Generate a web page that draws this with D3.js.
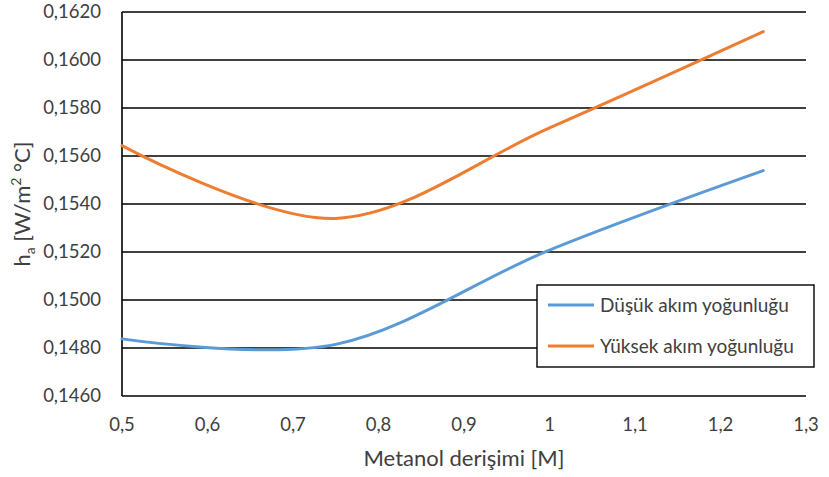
<!DOCTYPE html>
<html>
<head>
<meta charset="utf-8">
<script src="https://cdn.jsdelivr.net/npm/d3@7"></script>
<style>
  body { margin: 0; background: #fff; }
  text { font-family: Lato, "Open Sans", sans-serif; fill: #404040; }
</style>
</head>
<body>
<div id="root"></div>
<script>
const width = 829;
const height = 477;
const margin = { top: 12, right: 23, bottom: 81, left: 122 };

// data
const concentrations = [0.5, 0.75, 1.0, 1.25];
const lowCurrent = [0.14838, 0.14815, 0.15208, 0.15539];
const highCurrent = [0.15643, 0.15340, 0.15717, 0.16118];
const seriesNames = ["Düşük akım yoğunluğu", "Yüksek akım yoğunluğu"];
const seriesColors = ["#5B9BD5", "#ED7D31"];
const xTicks = [0.5, 0.6, 0.7, 0.8, 0.9, 1.0, 1.1, 1.2, 1.3];
const yTicks = [0.146, 0.148, 0.150, 0.152, 0.154, 0.156, 0.158, 0.160, 0.162];

const series = [lowCurrent, highCurrent].map((vals, i) => ({
  name: seriesNames[i],
  color: seriesColors[i],
  points: concentrations.map((c, j) => ({ x: c, y: vals[j] }))
}));

const svg = d3.select("#root")
  .append("svg")
    .attr("width", width)
    .attr("height", height);

const x = d3.scaleLinear()
  .domain([0.5, 1.3])
  .range([margin.left, width - margin.right]);

const y = d3.scaleLinear()
  .domain([0.146, 0.162])
  .range([height - margin.bottom, margin.top]);

// gridlines
svg.append("g")
  .selectAll("line")
  .data(yTicks)
  .enter()
  .append("line")
    .attr("x1", x(0.5))
    .attr("x2", x(1.3))
    .attr("y1", d => y(d))
    .attr("y2", d => y(d))
    .attr("stroke", "#000")
    .attr("stroke-width", 1.6);

// left axis line
svg.append("line")
  .attr("x1", x(0.5)).attr("x2", x(0.5))
  .attr("y1", y(0.146)).attr("y2", y(0.162))
  .attr("stroke", "#000")
  .attr("stroke-width", 1.6);

// y tick labels
svg.append("g")
  .selectAll("text")
  .data(yTicks)
  .enter()
  .append("text")
    .attr("x", x(0.5) - 21)
    .attr("y", d => y(d))
    .attr("dy", "0.35em")
    .attr("text-anchor", "end")
    .style("font-size", "18.5px")
    .text(d => d3.format(".4f")(d).replace(".", ","));

// x tick labels
svg.append("g")
  .selectAll("text")
  .data(xTicks)
  .enter()
  .append("text")
    .attr("x", d => x(d))
    .attr("y", y(0.146) + 29)
    .attr("dy", "0.35em")
    .attr("text-anchor", "middle")
    .style("font-size", "18.5px")
    .text(d => String(+d.toFixed(1)).replace(".", ","));

// axis titles
svg.append("text")
  .attr("x", (x(0.5) + x(1.3)) / 2)
  .attr("y", 466)
  .attr("text-anchor", "middle")
  .style("font-size", "22px")
  .text("Metanol derişimi [M]");

const yTitle = svg.append("text")
  .attr("transform", `translate(30, ${(y(0.146) + y(0.162)) / 2}) rotate(-90)`)
  .attr("text-anchor", "middle")
  .style("font-size", "22px");
yTitle.append("tspan").text("h");
yTitle.append("tspan").attr("dy", 5).style("font-size", "14px").text("a");
yTitle.append("tspan").attr("dy", -5).text(" [W/m");
yTitle.append("tspan").attr("dy", -9).style("font-size", "14px").text("2");
yTitle.append("tspan").attr("dy", 9).text(" °C]");

// lines
const line = d3.line()
  .x(d => x(d.x))
  .y(d => y(d.y))
  .curve(d3.curveCardinal.tension(0));

svg.append("g")
  .selectAll("path")
  .data(series)
  .enter()
  .append("path")
    .attr("d", d => line(d.points))
    .attr("fill", "none")
    .attr("stroke", d => d.color)
    .attr("stroke-width", 3)
    .attr("stroke-linecap", "round");

// legend
const legend = svg.append("g").attr("transform", "translate(537,285)");
legend.append("rect")
  .attr("width", 277)
  .attr("height", 82)
  .attr("fill", "#fff")
  .attr("stroke", "#000")
  .attr("stroke-width", 1.4);

const item = legend.selectAll("g.item")
  .data(series)
  .enter()
  .append("g")
    .attr("class", "item")
    .attr("transform", (d, i) => `translate(0, ${20 + i * 41})`);

item.append("line")
  .attr("x1", 11).attr("x2", 57)
  .attr("stroke", d => d.color)
  .attr("stroke-width", 3);

item.append("text")
  .attr("x", 63)
  .attr("dy", "0.35em")
  .style("font-size", "19px")
  .text(d => d.name);
</script>
</body>
</html>
